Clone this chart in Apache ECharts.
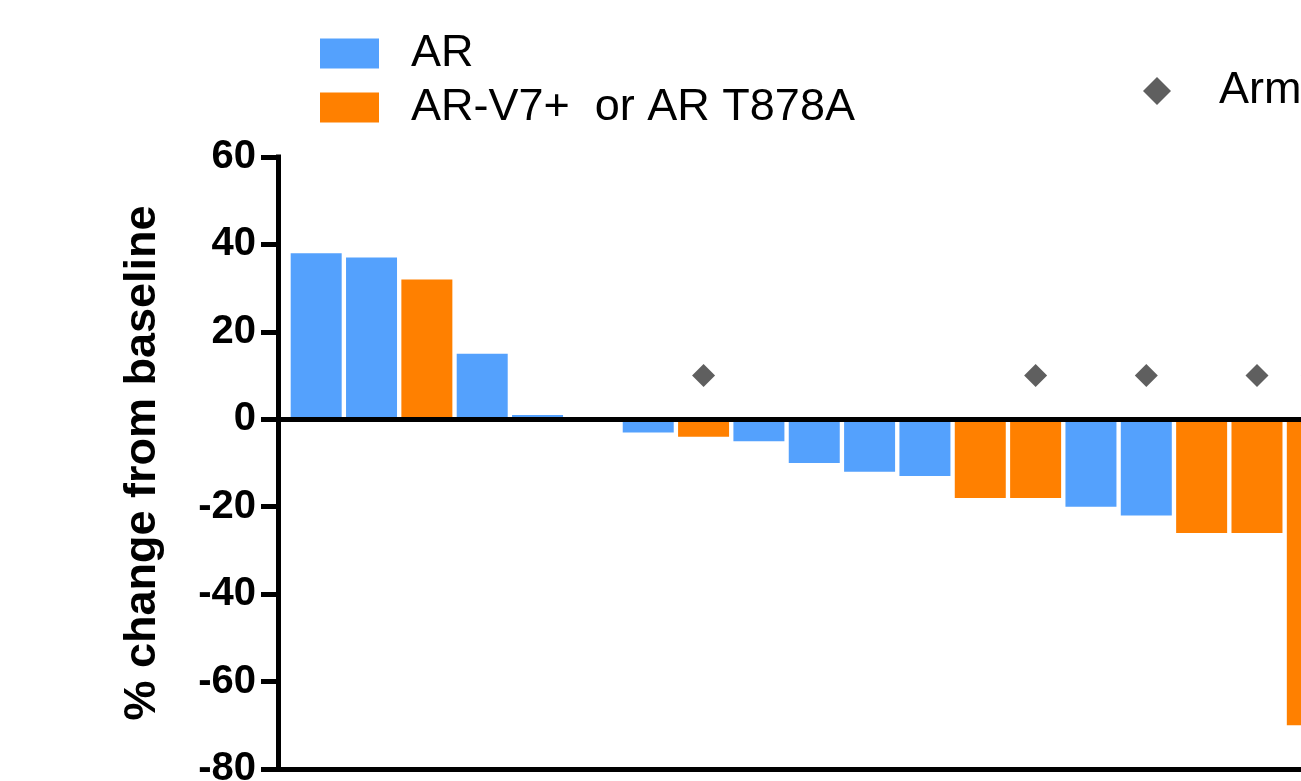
<!DOCTYPE html>
<html>
<head>
<meta charset="utf-8">
<script src="https://cdn.jsdelivr.net/npm/echarts@6/dist/echarts.min.js"></script>
<style>
html,body{margin:0;padding:0;background:#ffffff;}
#chart{width:1301px;height:781px;}
</style>
</head>
<body>
<div id="chart"></div>
<script>
// ---- data ----
const patientIndex = [0, 1, 2, 3, 4, 5, 6, 7, 8, 9, 10, 11, 12, 13, 14, 15, 16, 17, 18];
const changeFromBaseline = [38, 37, 32, 15, 1, 0, -3, -4, -5, -10, -12, -13, -18, -18, -20, -22, -26, -26, -70];
const mutationGroup = [0, 0, 1, 0, 0, 0, 0, 1, 0, 0, 0, 0, 1, 1, 0, 0, 1, 1, 1];
const groupNames = ['AR', 'AR-V7+  or AR T878A'];
const armPatients = [7, 13, 15, 17, 18];
const armMarkerLevel = 10;
const armName = 'Arm';
const yTickMin = -80;
const yTickMax = 60;
const yTickStep = 20;
const yAxisTitle = '% change from baseline';

// ---- styles ----
const groupColors = ['#54A1FD', '#FF8000'];
const font = 'Liberation Sans, Arial, Helvetica, sans-serif';

function groupData(g) {
  const out = [];
  patientIndex.forEach(function (p, i) {
    if (mutationGroup[i] === g) out.push([p, changeFromBaseline[i]]);
  });
  return out;
}

const chart = echarts.init(document.getElementById('chart'), null, {renderer: 'canvas'});
chart.setOption({
  animation: false,
  backgroundColor: '#ffffff',
  grid: {left: 278, top: 157, width: 1145, height: 612, containLabel: false, outerBoundsMode: 'none'},
  legend: [
    {
      data: [groupNames[0], groupNames[1]],
      orient: 'vertical',
      left: 320, top: 31,
      padding: 0,
      itemWidth: 59, itemHeight: 30, itemGap: 9,
      icon: 'rect',
      textStyle: {fontFamily: font, fontSize: 45, color: '#000', padding: [0, 0, 0, 27]}
    },
    {
      data: [armName],
      orient: 'vertical',
      left: 1143, top: 68.5,
      padding: 0,
      itemWidth: 28, itemHeight: 28,
      icon: 'diamond',
      itemStyle: {opacity: 1},
      textStyle: {fontFamily: font, fontSize: 45, color: '#000', padding: [0, 0, 0, 43]}
    }
  ],
  xAxis: [
    {
      type: 'value', min: -0.69, max: 20, z: 4,
      axisLine: {show: true, onZero: true, lineStyle: {color: '#000', width: 5}},
      axisTick: {show: false}, axisLabel: {show: false}, splitLine: {show: false}
    },
    {
      type: 'value', min: -0.69, max: 20, position: 'bottom', z: 4,
      axisLine: {show: true, onZero: false, lineStyle: {color: '#000', width: 5}},
      axisTick: {show: false}, axisLabel: {show: false}, splitLine: {show: false}
    }
  ],
  yAxis: {
    type: 'value', min: yTickMin, max: yTickMax, interval: yTickStep,
    name: yAxisTitle, nameLocation: 'middle', nameGap: 113,
    nameTextStyle: {fontFamily: font, fontSize: 45, fontWeight: 'bold', color: '#000'},
    axisLine: {show: true, onZero: false, lineStyle: {color: '#000', width: 5, cap: 'square'}},
    axisTick: {show: true, length: 17, lineStyle: {color: '#000', width: 5}},
    axisLabel: {fontFamily: font, fontSize: 40, fontWeight: 'bold', color: '#000', margin: 22},
    splitLine: {show: false}
  },
  series: [
    {
      name: groupNames[0], type: 'bar', xAxisIndex: 0,
      barWidth: 51, barGap: '-100%',
      itemStyle: {color: groupColors[0]},
      data: groupData(0)
    },
    {
      name: groupNames[1], type: 'bar', xAxisIndex: 0,
      barWidth: 51, barGap: '-100%',
      itemStyle: {color: groupColors[1]},
      data: groupData(1)
    },
    {
      name: armName, type: 'scatter', xAxisIndex: 0,
      symbol: 'diamond', symbolSize: 23, z: 5,
      itemStyle: {color: '#5F5F5F', opacity: 1},
      data: armPatients.map(function (p) { return [p, armMarkerLevel]; })
    }
  ]
});
</script>
</body>
</html>
